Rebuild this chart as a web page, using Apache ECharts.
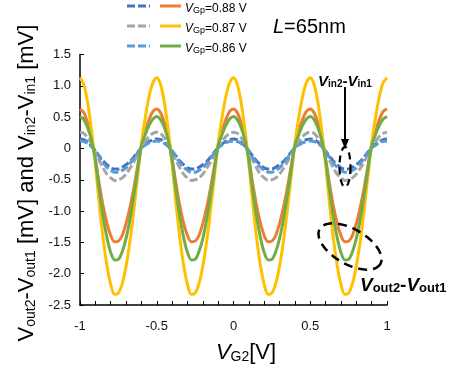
<!DOCTYPE html>
<html><head><meta charset="utf-8">
<script src="https://cdn.jsdelivr.net/npm/echarts@6/dist/echarts.min.js"></script>
<style>html,body{margin:0;padding:0;background:#fff}#c{width:456px;height:366px}</style>
</head><body><div id="c"></div>
<script>
// V_G2 sample positions [V]
const vg2 = [-1,-0.975,-0.95,-0.925,-0.9,-0.875,-0.85,-0.825,-0.8,-0.775,-0.75,-0.725,-0.7,-0.675,-0.65,-0.625,-0.6,-0.575,-0.55,-0.525,
-0.5,-0.475,-0.45,-0.425,-0.4,-0.375,-0.35,-0.325,-0.3,-0.275,-0.25,-0.225,-0.2,-0.175,-0.15,-0.125,-0.1,-0.075,-0.05,-0.025,
0,0.025,0.05,0.075,0.1,0.125,0.15,0.175,0.2,0.225,0.25,0.275,0.3,0.325,0.35,0.375,0.4,0.425,0.45,0.475,
0.5,0.525,0.55,0.575,0.6,0.625,0.65,0.675,0.7,0.725,0.75,0.775,0.8,0.825,0.85,0.875,0.9,0.925,0.95,0.975,1];

// Vin2-Vin1, VGp=0.88 V (dark blue dashed)
const vin088 = [0.15,0.14,0.10,0.04,-0.04,-0.12,-0.20,-0.26,-0.31,-0.33,-0.33,-0.30,-0.26,-0.21,-0.14,-0.06,0.01,0.07,0.11,0.14,
0.15,0.14,0.10,0.04,-0.04,-0.12,-0.20,-0.26,-0.31,-0.33,-0.33,-0.30,-0.26,-0.21,-0.14,-0.06,0.01,0.07,0.11,0.14,
0.15,0.14,0.10,0.04,-0.04,-0.12,-0.20,-0.26,-0.31,-0.33,-0.33,-0.30,-0.26,-0.21,-0.14,-0.06,0.01,0.07,0.11,0.14,
0.15,0.14,0.10,0.04,-0.04,-0.12,-0.20,-0.26,-0.31,-0.33,-0.33,-0.30,-0.26,-0.21,-0.14,-0.06,0.01,0.07,0.11,0.14,0.15];
// Vout2-Vout1, VGp=0.88 V (orange)
const vout088 = [0.63,0.57,0.41,0.16,-0.16,-0.56,-0.91,-1.19,-1.39,-1.49,-1.48,-1.39,-1.20,-0.95,-0.64,-0.29,0.05,0.27,0.46,0.59,
0.63,0.57,0.41,0.16,-0.16,-0.56,-0.91,-1.19,-1.39,-1.49,-1.48,-1.39,-1.20,-0.95,-0.64,-0.29,0.05,0.27,0.46,0.59,
0.63,0.57,0.41,0.16,-0.16,-0.56,-0.91,-1.19,-1.39,-1.49,-1.48,-1.39,-1.20,-0.95,-0.64,-0.29,0.05,0.27,0.46,0.59,
0.63,0.57,0.41,0.16,-0.16,-0.56,-0.91,-1.19,-1.39,-1.49,-1.48,-1.39,-1.20,-0.95,-0.64,-0.29,0.05,0.27,0.46,0.59,0.63];
// Vin2-Vin1, VGp=0.87 V (gray dashed)
const vin087 = [0.26,0.24,0.17,0.07,-0.06,-0.19,-0.31,-0.41,-0.47,-0.51,-0.50,-0.47,-0.41,-0.32,-0.22,-0.10,0.02,0.11,0.19,0.24,
0.26,0.24,0.17,0.07,-0.06,-0.19,-0.31,-0.41,-0.47,-0.51,-0.50,-0.47,-0.41,-0.32,-0.22,-0.10,0.02,0.11,0.19,0.24,
0.26,0.24,0.17,0.07,-0.06,-0.19,-0.31,-0.41,-0.47,-0.51,-0.50,-0.47,-0.41,-0.32,-0.22,-0.10,0.02,0.11,0.19,0.24,
0.26,0.24,0.17,0.07,-0.06,-0.19,-0.31,-0.41,-0.47,-0.51,-0.50,-0.47,-0.41,-0.32,-0.22,-0.10,0.02,0.11,0.19,0.24,0.26];
// Vout2-Vout1, VGp=0.87 V (yellow)
const vout087 = [1.13,1.02,0.73,0.29,-0.25,-0.87,-1.42,-1.86,-2.17,-2.33,-2.31,-2.16,-1.88,-1.49,-1.00,-0.46,0.08,0.49,0.83,1.05,
1.13,1.02,0.73,0.29,-0.25,-0.87,-1.42,-1.86,-2.17,-2.33,-2.31,-2.16,-1.88,-1.49,-1.00,-0.46,0.08,0.49,0.83,1.05,
1.13,1.02,0.73,0.29,-0.25,-0.87,-1.42,-1.86,-2.17,-2.33,-2.31,-2.16,-1.88,-1.49,-1.00,-0.46,0.08,0.49,0.83,1.05,
1.13,1.02,0.73,0.29,-0.25,-0.87,-1.42,-1.86,-2.17,-2.33,-2.31,-2.16,-1.88,-1.49,-1.00,-0.46,0.08,0.49,0.83,1.05,1.13];
// Vin2-Vin1, VGp=0.86 V (light blue dashed)
const vin086 = [0.12,0.11,0.08,0.03,-0.04,-0.14,-0.23,-0.30,-0.35,-0.38,-0.38,-0.35,-0.31,-0.24,-0.16,-0.07,0.01,0.05,0.09,0.11,
0.12,0.11,0.08,0.03,-0.04,-0.14,-0.23,-0.30,-0.35,-0.38,-0.38,-0.35,-0.31,-0.24,-0.16,-0.07,0.01,0.05,0.09,0.11,
0.12,0.11,0.08,0.03,-0.04,-0.14,-0.23,-0.30,-0.35,-0.38,-0.38,-0.35,-0.31,-0.24,-0.16,-0.07,0.01,0.05,0.09,0.11,
0.12,0.11,0.08,0.03,-0.04,-0.14,-0.23,-0.30,-0.35,-0.38,-0.38,-0.35,-0.31,-0.24,-0.16,-0.07,0.01,0.05,0.09,0.11,0.12];
// Vout2-Vout1, VGp=0.86 V (green)
const vout086 = [0.51,0.46,0.33,0.13,-0.19,-0.66,-1.08,-1.42,-1.66,-1.78,-1.77,-1.65,-1.44,-1.14,-0.76,-0.35,0.04,0.22,0.37,0.47,
0.51,0.46,0.33,0.13,-0.19,-0.66,-1.08,-1.42,-1.66,-1.78,-1.77,-1.65,-1.44,-1.14,-0.76,-0.35,0.04,0.22,0.37,0.47,
0.51,0.46,0.33,0.13,-0.19,-0.66,-1.08,-1.42,-1.66,-1.78,-1.77,-1.65,-1.44,-1.14,-0.76,-0.35,0.04,0.22,0.37,0.47,
0.51,0.46,0.33,0.13,-0.19,-0.66,-1.08,-1.42,-1.66,-1.78,-1.77,-1.65,-1.44,-1.14,-0.76,-0.35,0.04,0.22,0.37,0.47,0.51];

const legendLabels = ['=0.88 V', '=0.87 V', '=0.86 V'];
const xRange = [-1, 1];
const yRange = [-2.5, 1.5];

const F = 'Liberation Sans, Arial, sans-serif';
const DASH = [8, 3];
const defs = [
  {name: 'in088', data: vin088, color: '#4472C4', dash: DASH},
  {name: 'out088', data: vout088, color: '#ED7D31', dash: 'solid'},
  {name: 'in087', data: vin087, color: '#A5A5A5', dash: DASH},
  {name: 'out087', data: vout087, color: '#FFC000', dash: 'solid'},
  {name: 'in086', data: vin086, color: '#5B9BD5', dash: DASH},
  {name: 'out086', data: vout086, color: '#70AD47', dash: 'solid'}
];
const series = defs.map(d => ({
  name: d.name, type: 'line', symbol: 'none', smooth: 0.3,
  data: vg2.map((x, i) => [x, d.data[i]]),
  lineStyle: {color: d.color, width: 3, type: d.dash, cap: 'butt'},
  itemStyle: {color: d.color}, silent: true, animation: false
}));

function ellipsePts(cx, cy, a, b, th) {
  const pts = [];
  const c = Math.cos(th), s = Math.sin(th);
  for (let k = 0; k < 64; k++) {
    const t = k / 64 * Math.PI * 2;
    const ex = a * Math.cos(t), ey = b * Math.sin(t);
    pts.push([cx + ex * c - ey * s, cy + ex * s + ey * c]);
  }
  return pts;
}

const graphics = [];
// legend
const rowsY = [6, 26, 46];
const dashedCols = ['#4472C4', '#A5A5A5', '#5B9BD5'];
const solidCols = ['#ED7D31', '#FFC000', '#70AD47'];
rowsY.forEach((y, i) => {
  graphics.push({type: 'line', shape: {x1: 127, y1: y, x2: 150, y2: y},
    style: {stroke: dashedCols[i], lineWidth: 3, lineDash: DASH}});
  graphics.push({type: 'line', shape: {x1: 160, y1: y, x2: 181, y2: y},
    style: {stroke: solidCols[i], lineWidth: 3}});
  graphics.push({type: 'text', x: 185, y: y + 1, style: {
    text: '{i|V}{s|Gp}{m|' + legendLabels[i] + '}',
    align: 'left', verticalAlign: 'middle', textAlign: 'left', textVerticalAlign: 'middle',
    rich: {
      i: {fontSize: 12, fontStyle: 'italic', fontFamily: F, lineHeight: 16, verticalAlign: 'bottom', fill: '#000'},
      s: {fontSize: 9, fontFamily: F, lineHeight: 9, verticalAlign: 'bottom', fill: '#000'},
      m: {fontSize: 12, fontFamily: F, lineHeight: 16, verticalAlign: 'bottom', fill: '#000'}
    }}});
});
// L=65nm
graphics.push({type: 'text', x: 273, y: 27, style: {
  text: '{i|L}{m|=65nm}', align: 'left', verticalAlign: 'middle', textAlign: 'left', textVerticalAlign: 'middle',
  rich: {i: {fontSize: 20, fontStyle: 'italic', fontFamily: F, fill: '#000'},
         m: {fontSize: 20, fontFamily: F, fill: '#000'}}}});
// Y title
graphics.push({type: 'text', x: 24, y: 183, rotation: Math.PI / 2, style: {
  text: '{m|V}{s|out2}{m|-V}{s|out1}{m| [mV] and V}{s|in2}{m|-V}{s|in1}{m| [mV]}',
  align: 'center', verticalAlign: 'middle', textAlign: 'center', textVerticalAlign: 'middle',
  rich: {m: {fontSize: 22, fontFamily: F, lineHeight: 28, verticalAlign: 'bottom', fill: '#000'},
         s: {fontSize: 14, fontFamily: F, lineHeight: 14, verticalAlign: 'bottom', fill: '#000'}}}});
// X title
graphics.push({type: 'text', x: 246, y: 350, style: {
  text: '{i|V}{s|G2}{m|[V]}',
  align: 'center', verticalAlign: 'middle', textAlign: 'center', textVerticalAlign: 'middle',
  rich: {i: {fontSize: 22, fontStyle: 'italic', fontFamily: F, lineHeight: 28, verticalAlign: 'bottom', fill: '#000'},
         m: {fontSize: 22, fontFamily: F, lineHeight: 28, verticalAlign: 'bottom', fill: '#000'},
         s: {fontSize: 14, fontFamily: F, lineHeight: 14, verticalAlign: 'bottom', fill: '#000'}}}});
// Annotation: Vin2-Vin1
graphics.push({type: 'text', x: 318, y: 79, z: 10, style: {
  text: '{i|V}{s|in2}{m|-}{i|V}{s|in1}',
  align: 'left', verticalAlign: 'middle', textAlign: 'left', textVerticalAlign: 'middle',
  rich: {i: {fontSize: 15, fontStyle: 'italic', fontWeight: 'bold', fontFamily: F, lineHeight: 20, verticalAlign: 'bottom', fill: '#000'},
         m: {fontSize: 15, fontWeight: 'bold', fontFamily: F, lineHeight: 20, verticalAlign: 'bottom', fill: '#000'},
         s: {fontSize: 10, fontWeight: 'bold', fontFamily: F, lineHeight: 10, verticalAlign: 'bottom', fill: '#000'}}}});
graphics.push({type: 'line', z: 10, shape: {x1: 345, y1: 87, x2: 345, y2: 142}, style: {stroke: '#000', lineWidth: 2}});
graphics.push({type: 'polygon', z: 10, shape: {points: [[345, 149], [341, 139], [349, 139]]}, style: {fill: '#000'}});
graphics.push({type: 'polygon', z: 10, shape: {points: ellipsePts(345, 167, 5.5, 20, 0)},
  style: {fill: 'none', stroke: '#000', lineWidth: 2.2, lineDash: [7, 5]}});
// Annotation: Vout2-Vout1
graphics.push({type: 'polygon', z: 10, shape: {points: ellipsePts(350, 246.5, 35, 17.5, Math.PI / 6)},
  style: {fill: 'none', stroke: '#000', lineWidth: 2.5, lineDash: [9, 6]}});
graphics.push({type: 'text', x: 360, y: 283, z: 10, style: {
  text: '{i|V}{s|out2}{m|-}{i|V}{s|out1}',
  align: 'left', verticalAlign: 'middle', textAlign: 'left', textVerticalAlign: 'middle',
  rich: {i: {fontSize: 19, fontStyle: 'italic', fontWeight: 'bold', fontFamily: F, lineHeight: 24, verticalAlign: 'bottom', fill: '#000'},
         m: {fontSize: 19, fontWeight: 'bold', fontFamily: F, lineHeight: 24, verticalAlign: 'bottom', fill: '#000'},
         s: {fontSize: 13, fontWeight: 'bold', fontFamily: F, lineHeight: 13, verticalAlign: 'bottom', fill: '#000'}}}});

const chart = echarts.init(document.getElementById('c'), null, {renderer: 'canvas'});
chart.setOption({
  animation: false,
  backgroundColor: '#fff',
  grid: {left: 80, right: 69, top: 54.5, bottom: 61, containLabel: false},
  xAxis: {
    type: 'value', min: xRange[0], max: xRange[1], interval: 0.5,
    axisLine: {show: true, onZero: false, lineStyle: {color: '#000', width: 1.5}},
    axisTick: {show: true, inside: true, length: 4, lineStyle: {color: '#000', width: 1}},
    minorTick: {show: true, splitNumber: 5, length: 4, lineStyle: {color: '#000', width: 1}},
    splitLine: {show: false},
    axisLabel: {margin: 15, fontSize: 13, fontFamily: F, color: '#111'}
  },
  yAxis: {
    type: 'value', min: yRange[0], max: yRange[1], interval: 0.5,
    axisLine: {show: true, onZero: false, lineStyle: {color: '#000', width: 1.5}},
    axisTick: {show: true, inside: true, length: 4, lineStyle: {color: '#000', width: 1}},
    splitLine: {show: false},
    axisLabel: {margin: 9, fontSize: 13, fontFamily: F, color: '#111',
      formatter: v => (v === 0 ? '0' : v.toFixed(1))}
  },
  series: series,
  graphic: graphics
});
</script>
</body></html>
